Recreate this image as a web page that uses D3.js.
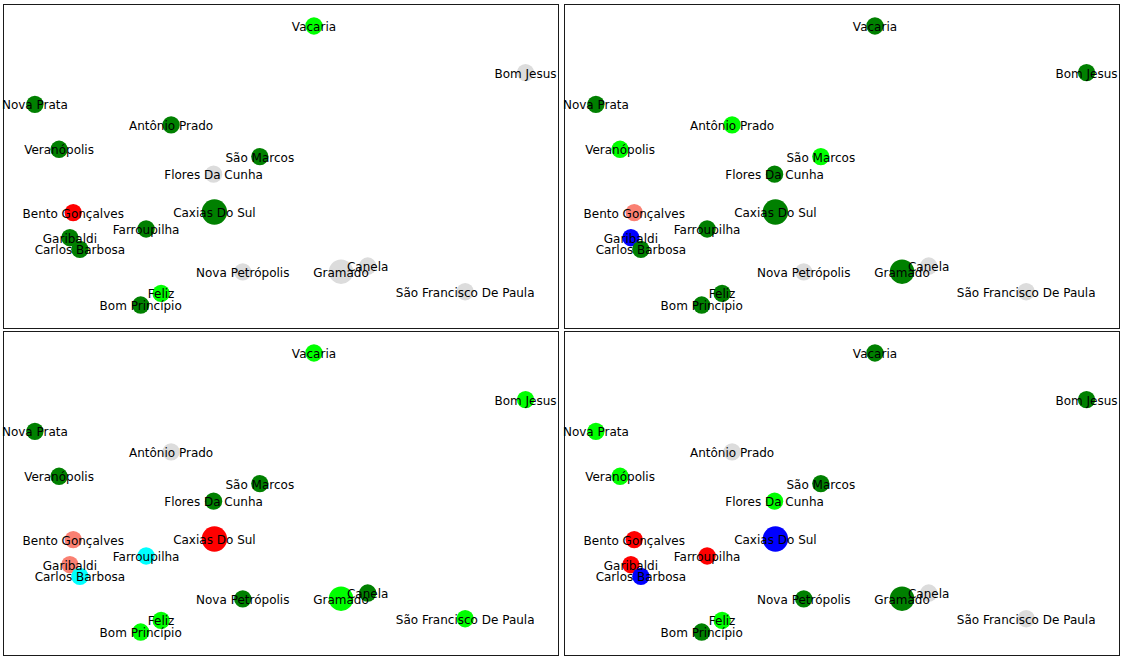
<!DOCTYPE html>
<html>
<head>
<meta charset="utf-8">
<script src="https://cdn.jsdelivr.net/npm/d3@7"></script>
<style>
  html, body { margin: 0; padding: 0; background: #fff; }
  svg { display: block; }
</style>
</head>
<body>
<svg id="chart" width="1121" height="658"></svg>
<script>
// ---- data ----
const cities = ["Vacaria", "Bom Jesus", "Nova Prata", "Antônio Prado", "Veranópolis", "São Marcos",
  "Flores Da Cunha", "Bento Gonçalves", "Caxias Do Sul", "Farroupilha", "Garibaldi", "Carlos Barbosa",
  "Nova Petrópolis", "Gramado", "Canela", "São Francisco De Paula", "Feliz", "Bom Princípio"];
const lon = [-50.939, -50.431, -51.609, -51.282, -51.551, -51.069, -51.180, -51.517, -51.178, -51.342,
  -51.525, -51.501, -51.110, -50.874, -50.810, -50.576, -51.306, -51.355];
const lat = [-28.510, -28.675, -28.787, -28.860, -28.946, -28.972, -29.034, -29.170, -29.168, -29.228,
  -29.259, -29.300, -29.380, -29.379, -29.359, -29.450, -29.456, -29.497];
const weight = [1, 1, 1, 1, 1, 1, 1, 1, 2.15, 1, 1, 1, 1, 2.0, 1, 1, 1, 1];
// class per city for each of the four panels
// N = none, L = lime, G = green, R = red, S = salmon, B = blue, C = cyan
const panel1 = ["L","N","G","G","G","G","N","R","G","G","G","G","N","N","N","N","L","G"];
const panel2 = ["G","G","G","L","L","L","G","S","G","G","B","G","N","G","N","N","G","G"];
const panel3 = ["L","L","G","N","G","G","G","S","R","C","S","C","G","L","G","L","L","L"];
const panel4 = ["G","G","L","N","L","G","L","R","B","R","R","B","G","G","N","N","L","G"];
const panels = [panel1, panel2, panel3, panel4];
const classCodes = ["N", "L", "G", "R", "S", "B", "C"];

// ---- layout ----
const svg = d3.select("#chart");
const W = 555, H = 324;
const origins = [[3, 4], [564, 4], [3, 331], [564, 331]];

const x = d3.scaleLinear().domain([-51.6856, -50.3531]).range([0, W]);
const y = d3.scaleLinear().domain([-28.4322, -29.5783]).range([0, H]);
const r = d3.scaleSqrt().domain([0, 2]).range([0, 12.25]);
const color = d3.scaleOrdinal().domain(classCodes)
  .range(["#dcdcdc", "#00ff00", "#008000", "#ff0000", "#fa8072", "#0000ff", "#00ffff"]);

const nodes = cities.map((c, i) => ({ name: c, lon: lon[i], lat: lat[i], w: weight[i], i }));

panels.forEach((cls, p) => {
  const g = svg.append("g").attr("transform", `translate(${origins[p][0]},${origins[p][1]})`);
  g.append("rect")
    .attr("x", 0.5).attr("y", 0.5)
    .attr("width", W).attr("height", H)
    .attr("fill", "none").attr("stroke", "#1a1a1a").attr("stroke-width", 1);
  g.selectAll("circle").data(nodes).join("circle")
    .attr("cx", d => x(d.lon))
    .attr("cy", d => y(d.lat))
    .attr("r", d => r(d.w))
    .attr("fill", d => color(cls[d.i]));
  g.selectAll("text").data(nodes).join("text")
    .attr("x", d => x(d.lon))
    .attr("y", d => y(d.lat) + 1)
    .attr("text-anchor", "middle")
    .attr("dominant-baseline", "central")
    .attr("font-family", "DejaVu Sans, sans-serif")
    .attr("font-size", 12)
    .attr("fill", "#000")
    .text(d => d.name);
});
</script>
</body>
</html>
